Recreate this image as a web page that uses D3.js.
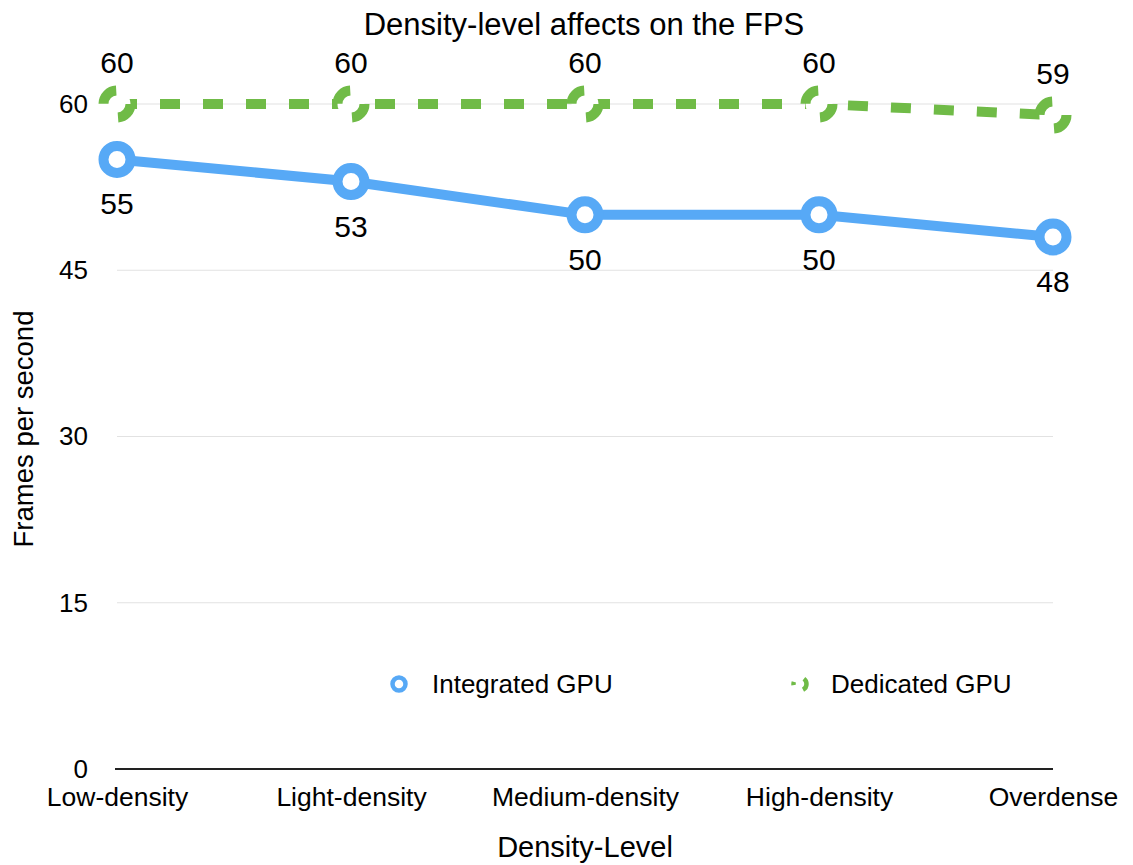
<!DOCTYPE html>
<html>
<head>
<meta charset="utf-8">
<script src="https://cdn.jsdelivr.net/npm/d3@7"></script>
<style>
  body { margin: 0; background: #fff; }
  text { font-family: "Liberation Sans", Arial, sans-serif; fill: #000; }
</style>
</head>
<body>
<div id="chart"></div>
<script>
var categories = ["Low-density", "Light-density", "Medium-density", "High-density", "Overdense"];
var integratedGPU = [55, 53, 50, 50, 48];
var dedicatedGPU = [60, 60, 60, 60, 59];
var yTicks = [0, 15, 30, 45, 60];

var svgWidth = 1133;
var svgHeight = 865;

var margin = { top: 104, right: 80, bottom: 96, left: 117 };
var width = 1053 - margin.left;
var height = 769 - margin.top;

var svg = d3.select("#chart")
  .append("svg")
  .attr("width", svgWidth)
  .attr("height", svgHeight);

var chartGroup = svg.append("g")
  .attr("transform", `translate(${margin.left}, ${margin.top})`);

var xScale = d3.scalePoint()
  .domain(categories)
  .range([0, width])
  .padding(0);

var yScale = d3.scaleLinear()
  .domain([0, 60])
  .range([height, 0]);

// gridlines
chartGroup.append("g")
  .selectAll("line")
  .data(yTicks.filter(d => d > 0))
  .enter()
  .append("line")
  .attr("x1", 0)
  .attr("x2", width)
  .attr("y1", d => yScale(d))
  .attr("y2", d => yScale(d))
  .attr("stroke", "#e2e2e2")
  .attr("stroke-width", 1.2);

// y axis labels
var leftAxis = d3.axisLeft(yScale).tickValues(yTicks).tickSize(0).tickPadding(29);
var yAxis = chartGroup.append("g").call(leftAxis);
yAxis.select(".domain").remove();
yAxis.selectAll("text")
  .style("font-size", "26px")
  .attr("font-family", "Liberation Sans, Arial, sans-serif");

// x axis
var bottomAxis = d3.axisBottom(xScale).tickSize(0).tickPadding(18);
var xAxis = chartGroup.append("g")
  .attr("transform", `translate(0, ${height})`)
  .call(bottomAxis);
xAxis.select(".domain")
  .attr("stroke", "#222")
  .attr("stroke-width", 2.2)
  .attr("d", `M-2,0H${width}`);
xAxis.selectAll("text")
  .style("font-size", "26.5px")
  .attr("font-family", "Liberation Sans, Arial, sans-serif");

var blue = "#57a9f6";
var green = "#70bb47";

var line = d3.line()
  .x((d, i) => xScale(categories[i]))
  .y(d => yScale(d));

// dedicated GPU (dashed)
chartGroup.append("path")
  .datum(dedicatedGPU)
  .attr("fill", "none")
  .attr("stroke", green)
  .attr("stroke-width", 10)
  .attr("stroke-dasharray", "20,23")
  .attr("d", line);

chartGroup.selectAll(".dcirc")
  .data(dedicatedGPU)
  .enter()
  .append("circle")
  .attr("class", "dcirc")
  .attr("cx", (d, i) => xScale(categories[i]))
  .attr("cy", d => yScale(d))
  .attr("r", 13.5)
  .attr("fill", "#fff")
  .attr("stroke", green)
  .attr("stroke-width", 10)
  .attr("stroke-dasharray", "20,22.4");

chartGroup.selectAll(".dlabel")
  .data(dedicatedGPU)
  .enter()
  .append("text")
  .attr("class", "dlabel")
  .attr("x", (d, i) => xScale(categories[i]))
  .attr("y", d => yScale(d) - 31)
  .attr("text-anchor", "middle")
  .style("font-size", "30px")
  .text(d => d);

// integrated GPU
chartGroup.append("path")
  .datum(integratedGPU)
  .attr("fill", "none")
  .attr("stroke", blue)
  .attr("stroke-width", 10)
  .attr("d", line);

chartGroup.selectAll(".icirc")
  .data(integratedGPU)
  .enter()
  .append("circle")
  .attr("class", "icirc")
  .attr("cx", (d, i) => xScale(categories[i]))
  .attr("cy", d => yScale(d))
  .attr("r", 13.5)
  .attr("fill", "#fff")
  .attr("stroke", blue)
  .attr("stroke-width", 10);

chartGroup.selectAll(".ilabel")
  .data(integratedGPU)
  .enter()
  .append("text")
  .attr("class", "ilabel")
  .attr("x", (d, i) => xScale(categories[i]))
  .attr("y", d => yScale(d) + 55)
  .attr("text-anchor", "middle")
  .style("font-size", "30px")
  .text(d => d);

// legend
var legend = svg.append("g").attr("transform", "translate(0, 684)");
legend.append("circle")
  .attr("cx", 399).attr("cy", 0).attr("r", 6.5)
  .attr("fill", "#fff").attr("stroke", blue).attr("stroke-width", 4.5);
legend.append("text")
  .attr("x", 432).attr("y", 9)
  .style("font-size", "26px")
  .text("Integrated GPU");
legend.append("circle")
  .attr("cx", 800).attr("cy", 0).attr("r", 6.5)
  .attr("fill", "#fff").attr("stroke", green).attr("stroke-width", 4.5)
  .attr("stroke-dasharray", "6.8,11.9,3.4,11.9,6.8");
legend.append("text")
  .attr("x", 831).attr("y", 9)
  .style("font-size", "26px")
  .text("Dedicated GPU");

// titles
svg.append("text")
  .attr("x", 584)
  .attr("y", 35)
  .attr("text-anchor", "middle")
  .style("font-size", "31px")
  .text("Density-level affects on the FPS");

svg.append("text")
  .attr("x", 585)
  .attr("y", 857)
  .attr("text-anchor", "middle")
  .style("font-size", "29px")
  .text("Density-Level");

svg.append("text")
  .attr("transform", "translate(33, 429) rotate(-90)")
  .attr("text-anchor", "middle")
  .style("font-size", "27.5px")
  .text("Frames per second");
</script>
</body>
</html>
